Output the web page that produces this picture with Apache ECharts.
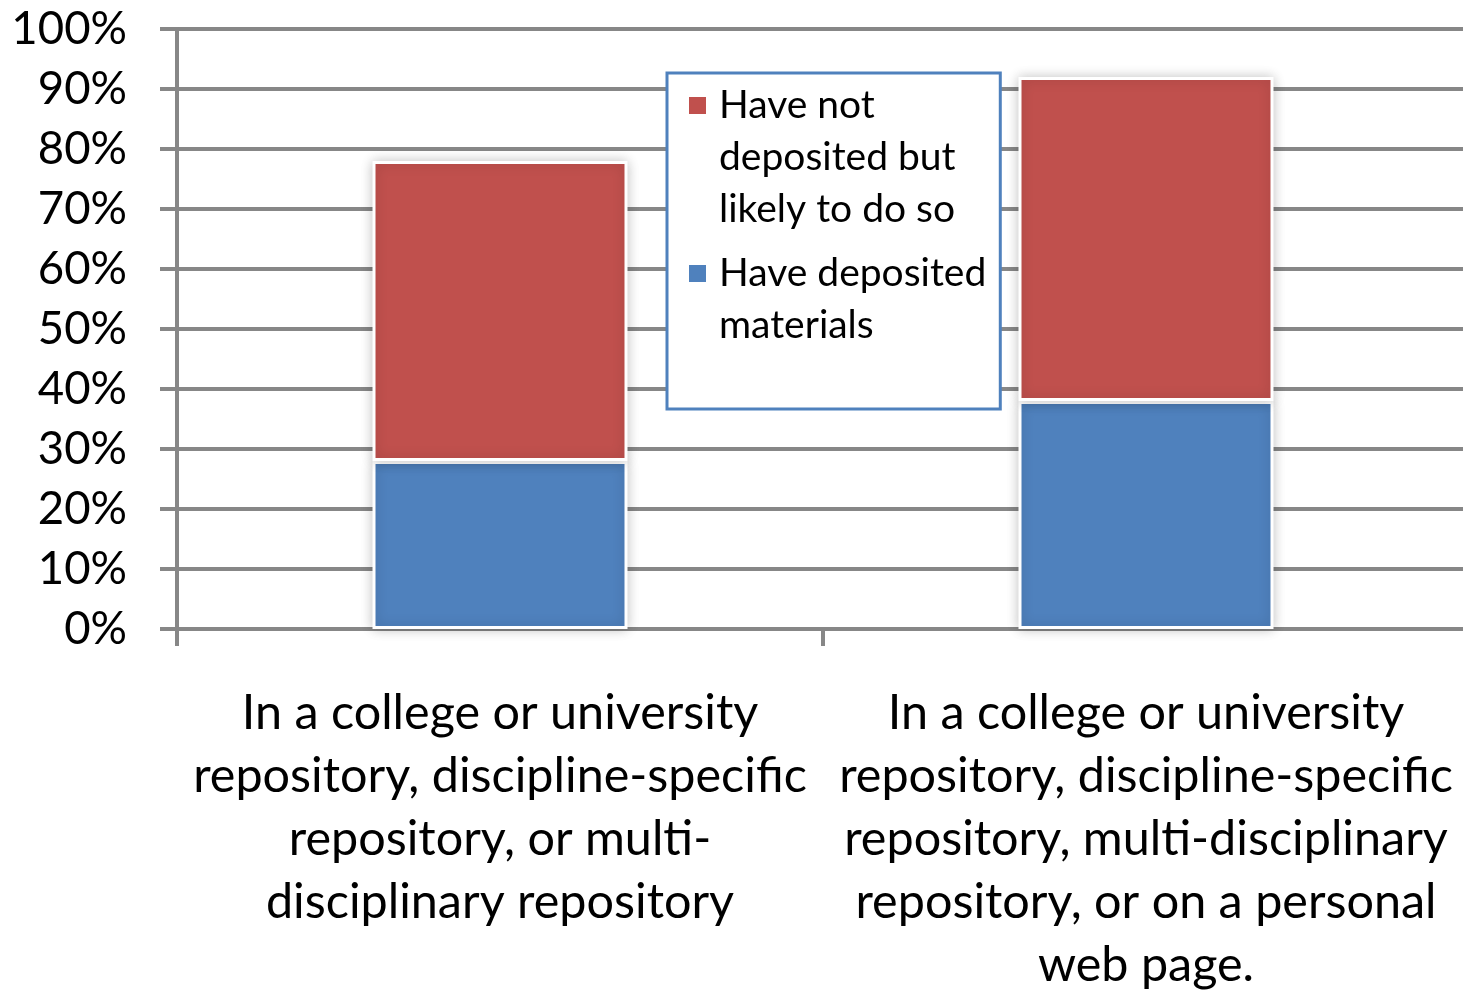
<!DOCTYPE html>
<html>
<head>
<meta charset="utf-8">
<script src="https://cdn.jsdelivr.net/npm/echarts@6/dist/echarts.min.js"></script>
<style>
  html, body { margin: 0; padding: 0; background: #fff; }
  #chart { width: 1463px; height: 991px; }
</style>
</head>
<body>
<div id="chart"></div>
<script>
// categories (x axis labels)
const categories = [
  "In a college or university\nrepository, discipline-specific\nrepository, or multi-\ndisciplinary repository",
  "In a college or university\nrepository, discipline-specific\nrepository, multi-disciplinary\nrepository, or on a personal\nweb page."
];
// series values, percent
const deposited = [28, 38];
const likelyToDeposit = [50, 54];
const seriesNames = ["Have deposited materials", "Have not deposited but likely to do so"];
// legend line breaks
const legendLines = {
  "Have not deposited but likely to do so": ["Have not", "deposited but", "likely to do so"],
  "Have deposited materials": ["Have deposited", "materials"]
};

const BLUE = "#4F81BD";
const RED = "#C0504D";
const GRID_GREY = "#878787";
const FONT = "Lato";

const chart = echarts.init(document.getElementById("chart"));

const barStyle = (color) => ({
  color: color,
  borderColor: "#fff",
  borderWidth: 3,
  shadowBlur: 12,
  shadowColor: "rgba(0,0,0,0.22)"
});

const option = {
  animation: false,
  backgroundColor: "#fff",
  textStyle: { fontFamily: FONT, color: "#000" },
  grid: { left: 177, right: -6, top: 29, bottom: 362, containLabel: false, outerBoundsMode: "none" },
  legend: {
    data: [seriesNames[1], seriesNames[0]],
    orient: "vertical",
    left: 667,
    top: 73,
    itemWidth: 0,
    itemHeight: 0,
    itemGap: 25,
    padding: [13, 14, 64, 16],
    borderColor: BLUE,
    borderWidth: 3,
    backgroundColor: "#fff",
    formatter: (name) => {
      const lines = legendLines[name];
      const sq = name === seriesNames[1] ? "r" : "b";
      return lines.map((l, i) => (i === 0 ? "{" + sq + "| }{g| }" : "{sp| }") + "{t|" + l + "}").join("\n");
    },
    textStyle: {
      fontFamily: FONT,
      rich: {
        r: { width: 17, height: 17, backgroundColor: RED, lineHeight: 52 },
        b: { width: 17, height: 17, backgroundColor: BLUE, lineHeight: 52 },
        g: { width: 13, lineHeight: 52 },
        sp: { width: 30, lineHeight: 52 },
        t: { fontSize: 39, lineHeight: 52, color: "#000", fontFamily: FONT, width: 265 }
      }
    }
  },
  xAxis: {
    type: "category",
    data: categories,
    axisLine: { lineStyle: { color: GRID_GREY, width: 4 } },
    axisTick: { show: true, interval: 0, length: 17, lineStyle: { color: GRID_GREY, width: 4 } },
    axisLabel: {
      interval: 0,
      margin: 53,
      fontSize: 48.5,
      lineHeight: 63,
      color: "#000",
      fontFamily: FONT,
      align: "center"
    }
  },
  yAxis: {
    type: "value",
    min: 0,
    max: 100,
    interval: 10,
    axisLine: { show: true, lineStyle: { color: GRID_GREY, width: 4 } },
    axisTick: { show: true, length: 17, lineStyle: { color: GRID_GREY, width: 4 } },
    splitLine: { lineStyle: { color: GRID_GREY, width: 4 } },
    axisLabel: {
      formatter: "{value}%",
      margin: 50,
      fontSize: 45.5,
      color: "#000",
      fontFamily: FONT
    }
  },
  series: [
    {
      name: seriesNames[0],
      type: "bar",
      stack: "total",
      barWidth: 255,
      data: deposited,
      itemStyle: barStyle(BLUE)
    },
    {
      name: seriesNames[1],
      type: "bar",
      stack: "total",
      barWidth: 255,
      data: likelyToDeposit,
      itemStyle: barStyle(RED)
    }
  ]
};

chart.setOption(option);
</script>
</body>
</html>
